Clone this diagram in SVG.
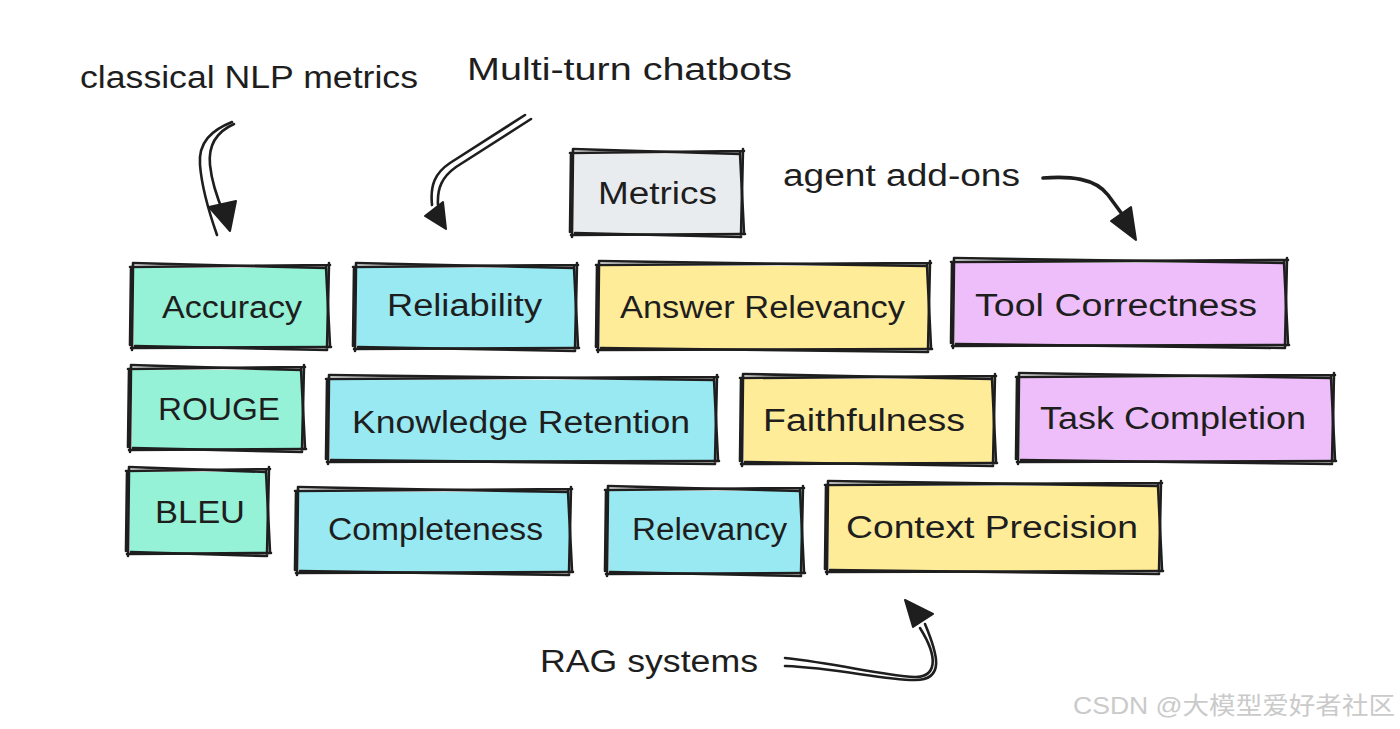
<svg xmlns="http://www.w3.org/2000/svg" width="1400" height="729" viewBox="0 0 1400 729">
<style>
.bg{fill:#ffffff}
.sk{fill:none;stroke:#1e1e1e;stroke-width:2.6;stroke-linecap:round;stroke-linejoin:round}
.ar{fill:none;stroke:#1e1e1e;stroke-width:2.6;stroke-linecap:round;stroke-linejoin:round}
.hd{fill:#1e1e1e;stroke:#1e1e1e;stroke-width:2;stroke-linejoin:round}
.t{font-family:"Liberation Sans","Noto Sans",sans-serif;font-size:31px;fill:#1e1e1e;text-anchor:start}
.grey{fill:#e9ecef}.green{fill:#96f2d7}.cyan{fill:#99e9f2}.yellow{fill:#ffec99}.purple{fill:#eebefa}
.wm{font-family:"Liberation Sans","Noto Sans CJK SC",sans-serif;font-size:24px;fill:#cacaca}
</style>
<rect class="bg" x="0" y="0" width="1400" height="729"/>

<g id="connectors">
  <g id="arrow-classical">
    <path class="ar" d="M232,122 C212,130 198,142 200,165 C202,190 210,215 217,235"/>
    <path class="ar" d="M234,124 C216,132 208,145 210,165 C212,185 218,200 224,214"/>
    <polygon class="hd" points="209,207 236,201 230,231"/>
  </g>
  <g id="arrow-multiturn">
    <path class="ar" d="M525,115 L450,163 C435,173 430,185 432,205"/>
    <path class="ar" d="M531,119 L456,167 C442,177 437,188 438,205"/>
    <polygon class="hd" points="425,216 443,202 446,229"/>
  </g>
  <g id="arrow-agent">
    <path class="ar" style="stroke-width:3.6" d="M1043,178 C1070,176 1095,178 1108,195 L1122,214"/>
    <polygon class="hd" points="1111,221 1131,207 1136,240"/>
  </g>
  <g id="arrow-rag">
    <path class="ar" d="M785,658 C840,664 880,675 915,677 C935,677 940,660 920,628"/>
    <path class="ar" d="M785,666 C840,668 880,680 915,680 C945,680 938,655 925,624"/>
    <polygon class="hd" points="905,600 933,614 913,627"/>
  </g>
</g>

<g id="label-classical"><text class="t" x="80" y="88" textLength="338" lengthAdjust="spacingAndGlyphs">classical NLP metrics</text></g>
<g id="label-multiturn"><text class="t" x="467" y="80" textLength="325" lengthAdjust="spacingAndGlyphs">Multi-turn chatbots</text></g>
<g id="label-agent"><text class="t" x="783" y="186" textLength="237" lengthAdjust="spacingAndGlyphs">agent add-ons</text></g>
<g id="label-rag"><text class="t" x="540" y="672" textLength="218" lengthAdjust="spacingAndGlyphs">RAG systems</text></g>

<g id="node-metrics">
  <rect class="grey" x="574" y="154" width="168" height="80"/>
  <path class="sk" d="M570,153 L744,151 M743,149 L741,236 M745,234 L571,235 M572,237 L573,150"/>
  <path class="sk" d="M573,149 L740,154 M740,153 L744,233 M741,237 L575,233 M570,232 L571,155"/>
  <text class="t" x="598" y="204" textLength="119" lengthAdjust="spacingAndGlyphs">Metrics</text>
</g>

<g id="node-accuracy">
  <rect class="green" x="134" y="268" width="194" height="79"/>
  <path class="sk" d="M130,267 L330,265 M329,263 L327,349 M331,347 L131,348 M132,350 L133,264"/>
  <path class="sk" d="M133,263 L326,268 M326,267 L330,346 M327,350 L135,346 M130,345 L131,269"/>
  <text class="t" x="162" y="318" textLength="140" lengthAdjust="spacingAndGlyphs">Accuracy</text>
</g>

<g id="node-reliability">
  <rect class="cyan" x="357" y="268" width="219" height="80"/>
  <path class="sk" d="M353,267 L578,265 M577,263 L575,350 M579,348 L354,349 M355,351 L356,264"/>
  <path class="sk" d="M356,263 L574,268 M574,267 L578,347 M575,351 L358,347 M353,346 L354,269"/>
  <text class="t" x="387" y="316" textLength="155" lengthAdjust="spacingAndGlyphs">Reliability</text>
</g>

<g id="node-answer-relevancy">
  <rect class="yellow" x="600" y="266" width="329" height="83"/>
  <path class="sk" d="M596,265 L931,263 M930,261 L928,351 M932,349 L597,350 M598,352 L599,262"/>
  <path class="sk" d="M599,261 L927,266 M927,265 L931,348 M928,352 L601,348 M596,347 L597,267"/>
  <text class="t" x="620" y="318" textLength="285" lengthAdjust="spacingAndGlyphs">Answer Relevancy</text>
</g>

<g id="node-tool-correctness">
  <rect class="purple" x="955" y="263" width="331" height="82"/>
  <path class="sk" d="M951,262 L1288,260 M1287,258 L1285,347 M1289,345 L952,346 M953,348 L954,259"/>
  <path class="sk" d="M954,258 L1284,263 M1284,262 L1288,344 M1285,348 L956,344 M951,343 L952,264"/>
  <text class="t" x="975" y="316" textLength="282" lengthAdjust="spacingAndGlyphs">Tool Correctness</text>
</g>

<g id="node-rouge">
  <rect class="green" x="132" y="370" width="171" height="79"/>
  <path class="sk" d="M128,369 L305,367 M304,365 L302,451 M306,449 L129,450 M130,452 L131,366"/>
  <path class="sk" d="M131,365 L301,370 M301,369 L305,448 M302,452 L133,448 M128,447 L129,371"/>
  <text class="t" x="158" y="420" textLength="122" lengthAdjust="spacingAndGlyphs">ROUGE</text>
</g>

<g id="node-knowledge-retention">
  <rect class="cyan" x="330" y="380" width="386" height="81"/>
  <path class="sk" d="M326,379 L718,377 M717,375 L715,463 M719,461 L327,462 M328,464 L329,376"/>
  <path class="sk" d="M329,375 L714,380 M714,379 L718,460 M715,464 L331,460 M326,459 L327,381"/>
  <text class="t" x="352" y="433" textLength="338" lengthAdjust="spacingAndGlyphs">Knowledge Retention</text>
</g>

<g id="node-faithfulness">
  <rect class="yellow" x="744" y="379" width="250" height="84"/>
  <path class="sk" d="M740,378 L996,376 M995,374 L993,465 M997,463 L741,464 M742,466 L743,375"/>
  <path class="sk" d="M743,374 L992,379 M992,378 L996,462 M993,466 L745,462 M740,461 L741,380"/>
  <text class="t" x="763" y="431" textLength="202" lengthAdjust="spacingAndGlyphs">Faithfulness</text>
</g>

<g id="node-task-completion">
  <rect class="purple" x="1020" y="378" width="315" height="83"/>
  <path class="sk" d="M1016,377 L1335,375 M1334,373 L1332,463 M1336,461 L1017,462 M1018,464 L1019,374"/>
  <path class="sk" d="M1019,373 L1331,378 M1331,377 L1335,460 M1332,464 L1021,460 M1016,459 L1017,379"/>
  <text class="t" x="1040" y="429" textLength="266" lengthAdjust="spacingAndGlyphs">Task Completion</text>
</g>

<g id="node-bleu">
  <rect class="green" x="130" y="472" width="138" height="81"/>
  <path class="sk" d="M126,471 L270,469 M269,467 L267,555 M271,553 L127,554 M128,556 L129,468"/>
  <path class="sk" d="M129,467 L266,472 M266,471 L270,552 M267,556 L131,552 M126,551 L127,473"/>
  <text class="t" x="155" y="523" textLength="90" lengthAdjust="spacingAndGlyphs">BLEU</text>
</g>

<g id="node-completeness">
  <rect class="cyan" x="299" y="492" width="271" height="80"/>
  <path class="sk" d="M295,491 L572,489 M571,487 L569,574 M573,572 L296,573 M297,575 L298,488"/>
  <path class="sk" d="M298,487 L568,492 M568,491 L572,571 M569,575 L300,571 M295,570 L296,493"/>
  <text class="t" x="328" y="540" textLength="215" lengthAdjust="spacingAndGlyphs">Completeness</text>
</g>

<g id="node-relevancy">
  <rect class="cyan" x="609" y="491" width="193" height="82"/>
  <path class="sk" d="M605,490 L804,488 M803,486 L801,575 M805,573 L606,574 M607,576 L608,487"/>
  <path class="sk" d="M608,486 L800,491 M800,490 L804,572 M801,576 L610,572 M605,571 L606,492"/>
  <text class="t" x="632" y="540" textLength="155" lengthAdjust="spacingAndGlyphs">Relevancy</text>
</g>

<g id="node-context-precision">
  <rect class="yellow" x="829" y="486" width="331" height="85"/>
  <path class="sk" d="M825,485 L1162,483 M1161,481 L1159,573 M1163,571 L826,572 M827,574 L828,482"/>
  <path class="sk" d="M828,481 L1158,486 M1158,485 L1162,570 M1159,574 L830,570 M825,569 L826,487"/>
  <text class="t" x="846" y="538" textLength="292" lengthAdjust="spacingAndGlyphs">Context Precision</text>
</g>

<g id="watermark"><text class="wm" x="1073" y="714" textLength="322" lengthAdjust="spacingAndGlyphs">CSDN @大模型爱好者社区</text></g>
</svg>
